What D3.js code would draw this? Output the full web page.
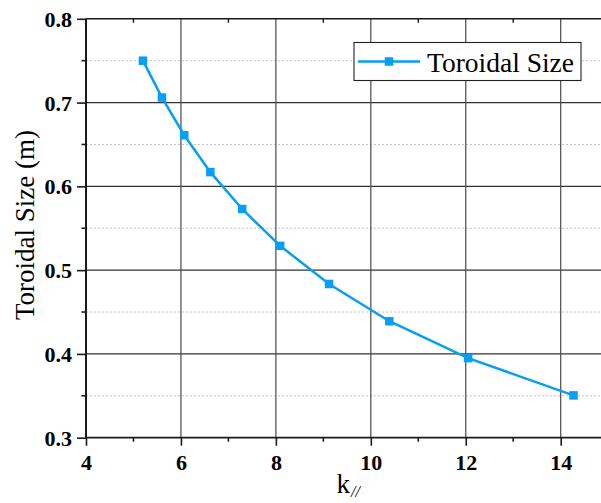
<!DOCTYPE html>
<html>
<head>
<meta charset="utf-8">
<script src="https://cdn.jsdelivr.net/npm/d3@7"></script>
<style>
  html, body { margin: 0; padding: 0; background: #fff; }
  svg { display: block; }
</style>
</head>
<body>
<svg id="chart" width="601" height="503"></svg>
<script>
// ---- data ----
const kValues = [5.2, 5.6, 6.07, 6.62, 7.29, 8.09, 9.12, 10.39, 12.05, 14.27];
const toroidalSize = [0.750, 0.706, 0.661, 0.617, 0.573, 0.529, 0.4835, 0.439, 0.395, 0.3505];
const seriesName = "Toroidal Size";
const xTicks = [4, 6, 8, 10, 12, 14];
const xMinorTicks = [5, 7, 9, 11, 13, 15];
const yTicks = [0.3, 0.4, 0.5, 0.6, 0.7, 0.8];
const yMinorTicks = [0.35, 0.45, 0.55, 0.65, 0.75];
const xTitle = "k";
const xTitleSub = "//";
const yTitle = "Toroidal Size (m)";

// ---- layout ----
const FONT = "'Liberation Serif', 'Times New Roman', serif";
const svg = d3.select("#chart");
const plotLeft = 86, plotTop = 18.8, plotBottom = 437.7;
const pxPerUnit = 47.47;
const x = d3.scaleLinear().domain([4, 15]).range([plotLeft, plotLeft + 11 * pxPerUnit]);
const y = d3.scaleLinear().domain([0.3, 0.8]).range([plotBottom, plotTop]);
const plotRight = x(15);
const color = "#069ff2";

// minor horizontal grid (dashed)
svg.append("g").selectAll("line").data(yMinorTicks).join("line")
  .attr("x1", plotLeft).attr("x2", plotRight)
  .attr("y1", d => y(d)).attr("y2", d => y(d))
  .attr("stroke", "#c4c4c4").attr("stroke-width", 1).attr("stroke-dasharray", "2,2");

// major horizontal grid
svg.append("g").selectAll("line").data(yTicks.slice(1, -1)).join("line")
  .attr("x1", plotLeft).attr("x2", plotRight)
  .attr("y1", d => y(d)).attr("y2", d => y(d))
  .attr("stroke", "#333").attr("stroke-width", 1.2);

// major vertical grid
svg.append("g").selectAll("line").data(xTicks.slice(1)).join("line")
  .attr("x1", d => x(d)).attr("x2", d => x(d))
  .attr("y1", plotTop).attr("y2", plotBottom)
  .attr("stroke", "#4a4a4a").attr("stroke-width", 1.2);

// bottom axis
const xAxis = d3.axisBottom(x).tickValues(xTicks).tickSize(8).tickPadding(8).tickFormat(d3.format("d"));
const gx = svg.append("g").attr("transform", `translate(0,${plotBottom})`).call(xAxis);
gx.select(".domain").remove();
gx.append("line").attr("x1", plotLeft).attr("x2", plotRight).attr("stroke", "#1a1a1a").attr("stroke-width", 1.8);
gx.selectAll(".tick line").attr("stroke", "#1a1a1a").attr("stroke-width", 1.6);
gx.selectAll(".tick text").attr("fill", "#000")
  .style("font-family", FONT).style("font-size", "22px").style("font-weight", "bold")
  .attr("dy", "0.72em");
gx.selectAll(".minor").data(xMinorTicks).join("line").attr("class", "minor")
  .attr("x1", d => x(d)).attr("x2", d => x(d)).attr("y1", 0).attr("y2", 4)
  .attr("stroke", "#1a1a1a").attr("stroke-width", 1.6);

// top axis (inward ticks)
const gt = svg.append("g");
gt.append("line").attr("x1", plotLeft).attr("x2", plotRight).attr("y1", plotTop).attr("y2", plotTop)
  .attr("stroke", "#1a1a1a").attr("stroke-width", 1.5);
gt.selectAll(".minor").data(xMinorTicks).join("line").attr("class", "minor")
  .attr("x1", d => x(d)).attr("x2", d => x(d)).attr("y1", plotTop).attr("y2", plotTop + 4)
  .attr("stroke", "#1a1a1a").attr("stroke-width", 1.4);

// left axis
const yAxis = d3.axisLeft(y).tickValues(yTicks).tickSize(9).tickPadding(5).tickFormat(d3.format(".1f"));
const gy = svg.append("g").attr("transform", `translate(${plotLeft},0)`).call(yAxis);
gy.select(".domain").remove();
gy.append("line").attr("y1", plotTop).attr("y2", plotBottom).attr("stroke", "#1a1a1a").attr("stroke-width", 2);
gy.selectAll(".tick line").attr("stroke", "#1a1a1a").attr("stroke-width", 1.6);
gy.selectAll(".tick text").attr("fill", "#000")
  .style("font-family", FONT).style("font-size", "22px").style("font-weight", "bold")
  .attr("dy", "0.34em");
gy.selectAll(".minor").data(yMinorTicks).join("line").attr("class", "minor")
  .attr("x1", -4.5).attr("x2", 0).attr("y1", d => y(d)).attr("y2", d => y(d))
  .attr("stroke", "#1a1a1a").attr("stroke-width", 1.6);

// series
const pts = kValues.map((k, i) => [k, toroidalSize[i]]);
svg.append("path").datum(pts)
  .attr("fill", "none").attr("stroke", color).attr("stroke-width", 2.5)
  .attr("d", d3.line().x(d => x(d[0])).y(d => y(d[1])));
const ms = 8.5;
svg.append("g").selectAll("rect").data(pts).join("rect")
  .attr("x", d => x(d[0]) - ms / 2).attr("y", d => y(d[1]) - ms / 2)
  .attr("width", ms).attr("height", ms).attr("fill", color);

// legend
const lg = svg.append("g");
lg.append("rect").attr("x", 354).attr("y", 42.5).attr("width", 227).attr("height", 38)
  .attr("fill", "#fff").attr("stroke", "#222").attr("stroke-width", 1.1);
lg.append("line").attr("x1", 358).attr("x2", 420).attr("y1", 61.5).attr("y2", 61.5)
  .attr("stroke", color).attr("stroke-width", 2.5);
lg.append("rect").attr("x", 389 - ms / 2).attr("y", 61.5 - ms / 2).attr("width", ms).attr("height", ms).attr("fill", color);
lg.append("text").attr("x", 427).attr("y", 71.5)
  .style("font-family", FONT).style("font-size", "27.5px").attr("fill", "#000").text(seriesName);

// axis titles
const xt = svg.append("text").attr("x", 336.5).attr("y", 493)
  .style("font-family", FONT).style("font-size", "27px").attr("fill", "#000");
xt.append("tspan").text(xTitle);
xt.append("tspan").style("font-size", "16px").style("font-style", "italic").attr("dy", 4).attr("dx", 1).text(xTitleSub);

svg.append("text").attr("transform", "translate(34,225) rotate(-90)")
  .attr("text-anchor", "middle").style("font-family", FONT).style("font-size", "27px")
  .attr("fill", "#000").text(yTitle);
</script>
</body>
</html>
